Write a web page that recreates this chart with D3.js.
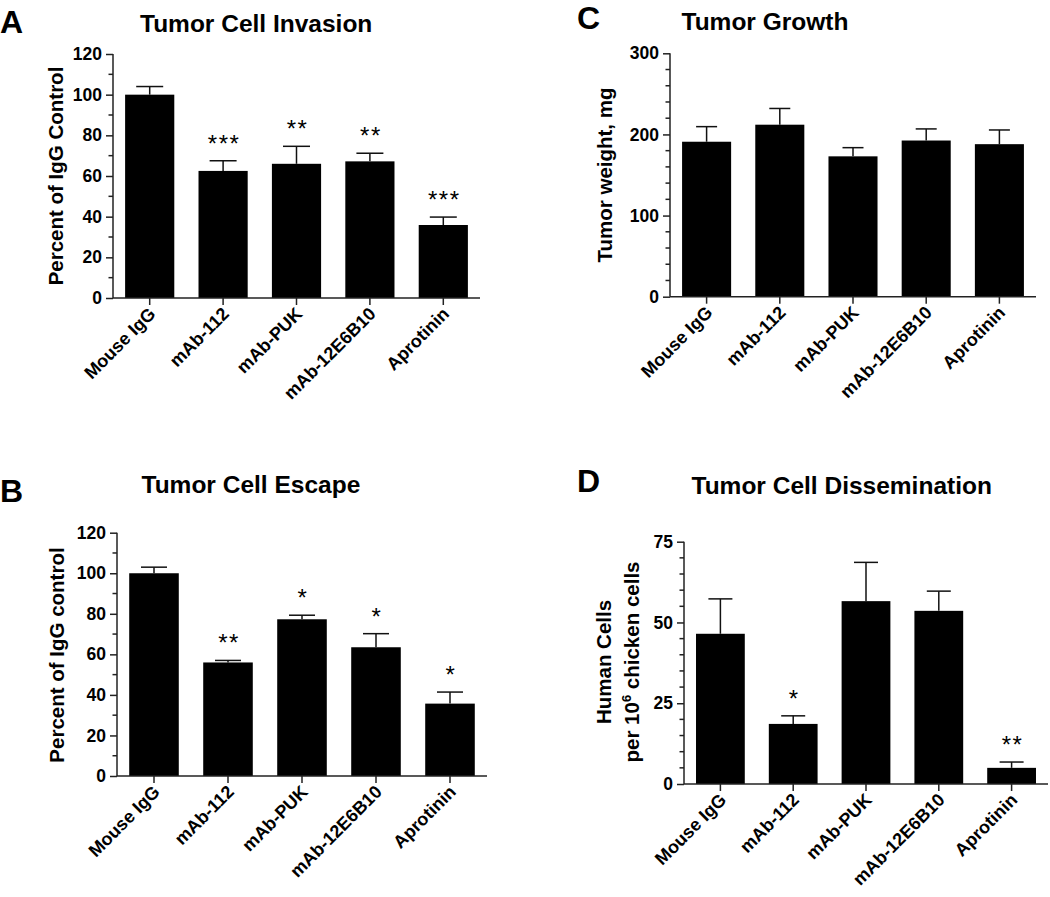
<!DOCTYPE html>
<html>
<head>
<meta charset="utf-8">
<script src="https://cdn.jsdelivr.net/npm/d3@7"></script>
<style>
  html, body { margin: 0; padding: 0; background: #fff; }
  svg { display: block; }
  text { font-family: "Liberation Sans", Arial, sans-serif; fill: #000; }
</style>
</head>
<body>
<svg id="chart" width="1050" height="897"></svg>
<script>
// ---------------- DATA ----------------
const categories = ["Mouse IgG", "mAb-112", "mAb-PUK", "mAb-12E6B10", "Aprotinin"];

const invasionMean = [100, 62.5, 66, 67.2, 35.9];
const invasionErr  = [4, 5, 8.6, 4, 3.9];
const invasionStars = ["", "***", "**", "**", "***"];

const escapeMean = [100, 56, 77.3, 63.5, 35.7];
const escapeErr  = [3, 1, 2, 6.7, 5.7];
const escapeStars = ["", "**", "*", "*", "*"];

const growthMean = [191, 212, 173, 192.5, 188];
const growthErr  = [18.6, 20, 10.7, 14.3, 17.5];
const growthStars = ["", "", "", "", ""];

const dissemMean = [46.5, 18.6, 56.6, 53.6, 5.0];
const dissemErr  = [10.8, 2.5, 12, 6.1, 1.8];
const dissemStars = ["", "*", "", "", "**"];

const invasionTicks = [0, 20, 40, 60, 80, 100, 120];
const escapeTicks   = [0, 20, 40, 60, 80, 100, 120];
const growthTicks   = [0, 100, 200, 300];
const dissemTicks   = [0, 25, 50, 75];

// ---------------- DRAW ----------------
const svg = d3.select("#chart");

function panel(cfg) {
  const g = svg.append("g");
  const x = d3.scaleBand().domain(categories).range([cfg.x0, cfg.x1])
    .paddingInner(0.33).paddingOuter(0.165);
  const y = d3.scaleLinear().domain([0, cfg.max]).range([cfg.y0, cfg.yTop]);

  // bars
  g.selectAll("rect.bar").data(cfg.mean).enter().append("rect")
    .attr("x", (d, i) => x(categories[i]))
    .attr("y", d => y(d))
    .attr("width", x.bandwidth())
    .attr("height", d => cfg.y0 - y(d))
    .attr("fill", "#000");

  // error bars (upper only)
  cfg.mean.forEach((m, i) => {
    const cx = x(categories[i]) + x.bandwidth() / 2;
    const top = y(m + cfg.err[i]);
    g.append("line").attr("x1", cx).attr("x2", cx).attr("y1", y(m)).attr("y2", top)
      .attr("stroke", "#111").attr("stroke-width", 1.5);
    g.append("line").attr("x1", cx - cfg.cap / 2).attr("x2", cx + cfg.cap / 2)
      .attr("y1", top).attr("y2", top)
      .attr("stroke", "#111").attr("stroke-width", 1.5);
    if (cfg.stars[i]) {
      g.append("text").attr("x", cx + 1).attr("y", top - 22 + 13)
        .attr("text-anchor", "middle").attr("font-size", 24)
        .attr("letter-spacing", 1.5)
        .text(cfg.stars[i]);
    }
  });

  // y axis (major)
  const yAxis = d3.axisLeft(y).tickValues(cfg.ticks).tickSize(7).tickPadding(4)
    .tickFormat(d3.format("d"));
  const ya = g.append("g").attr("transform", `translate(${cfg.x0},0)`).call(yAxis);
  ya.select(".domain").attr("stroke", "#222").attr("stroke-width", 1.5)
    .attr("d", `M0,${cfg.y0}V${cfg.yTop}`);
  ya.selectAll(".tick line").attr("stroke", "#222").attr("stroke-width", 1.5);
  ya.selectAll(".tick text").attr("font-size", 17.5).attr("font-weight", "bold")
    .attr("font-family", "Liberation Sans, Arial, sans-serif").attr("fill", "#000");

  // y minor ticks
  const minor = d3.range(0, cfg.max + 1e-9, cfg.minorStep).filter(v => !cfg.ticks.includes(v));
  g.selectAll("line.minor").data(minor).enter().append("line")
    .attr("x1", cfg.x0 - 4.5).attr("x2", cfg.x0)
    .attr("y1", d => y(d)).attr("y2", d => y(d))
    .attr("stroke", "#222").attr("stroke-width", 1.5);

  // x axis
  const xAxis = d3.axisBottom(x).tickSize(7).tickFormat("");
  const xa = g.append("g").attr("transform", `translate(0,${cfg.y0})`).call(xAxis);
  xa.select(".domain").attr("stroke", "#222").attr("stroke-width", 1.5)
    .attr("d", `M${cfg.x0},0H${cfg.x1}`);
  xa.selectAll(".tick line").attr("stroke", "#222").attr("stroke-width", 1.5);

  // x labels rotated
  categories.forEach(c => {
    const cx = x(c) + x.bandwidth() / 2;
    g.append("text")
      .attr("transform", `translate(${cx + 7},${cfg.y0 + 17}) rotate(-45)`)
      .attr("text-anchor", "end").attr("font-size", 18).attr("font-weight", "bold")
      .text(c);
  });

  // panel letter
  g.append("text").attr("x", cfg.letterX).attr("y", cfg.letterY)
    .attr("font-size", 32).attr("font-weight", "bold").text(cfg.letter);
  // title
  g.append("text").attr("x", cfg.titleX).attr("y", cfg.titleY)
    .attr("font-size", 24.5).attr("font-weight", "bold").text(cfg.title);

  // y label
  cfg.ylabel.forEach(l => {
    const t = g.append("text")
      .attr("transform", `translate(${l.x},${l.cy}) rotate(-90)`)
      .attr("text-anchor", "middle").attr("font-size", 20.5).attr("font-weight", "bold");
    if (l.sup) {
      t.append("tspan").text(l.pre);
      t.append("tspan").attr("font-size", 13).attr("dy", -8).text(l.sup);
      t.append("tspan").attr("dy", 8).text(l.post);
    } else {
      t.text(l.text);
    }
  });
}

panel({
  x0: 113, x1: 480, y0: 298, yTop: 54, max: 120, minorStep: 10,
  ticks: invasionTicks, mean: invasionMean, err: invasionErr, stars: invasionStars, cap: 27,
  letter: "A", letterX: 0, letterY: 33, title: "Tumor Cell Invasion", titleX: 140, titleY: 31.5,
  ylabel: [{ x: 63, cy: 176, text: "Percent of IgG Control" }]
});

panel({
  x0: 117, x1: 487, y0: 776, yTop: 532.7, max: 120, minorStep: 10,
  ticks: escapeTicks, mean: escapeMean, err: escapeErr, stars: escapeStars, cap: 26,
  letter: "B", letterX: 0, letterY: 502, title: "Tumor Cell Escape", titleX: 141.5, titleY: 492.5,
  ylabel: [{ x: 64, cy: 655, text: "Percent of IgG control" }]
});

panel({
  x0: 670, x1: 1036, y0: 296.7, yTop: 53.3, max: 300, minorStep: 20,
  ticks: growthTicks, mean: growthMean, err: growthErr, stars: growthStars, cap: 21,
  letter: "C", letterX: 577, letterY: 29, title: "Tumor Growth", titleX: 681.5, titleY: 30,
  ylabel: [{ x: 612, cy: 175, text: "Tumor weight, mg" }]
});

panel({
  x0: 684, x1: 1048, y0: 784, yTop: 541.7, max: 75, minorStep: 5,
  ticks: dissemTicks, mean: dissemMean, err: dissemErr, stars: dissemStars, cap: 24,
  letter: "D", letterX: 577, letterY: 492, title: "Tumor Cell Dissemination", titleX: 691.5, titleY: 494,
  ylabel: [
    { x: 611, cy: 662, text: "Human Cells" },
    { x: 639, cy: 662, sup: true, pre: "per 10", sup: "6", post: " chicken cells" }
  ]
});
</script>
</body>
</html>
